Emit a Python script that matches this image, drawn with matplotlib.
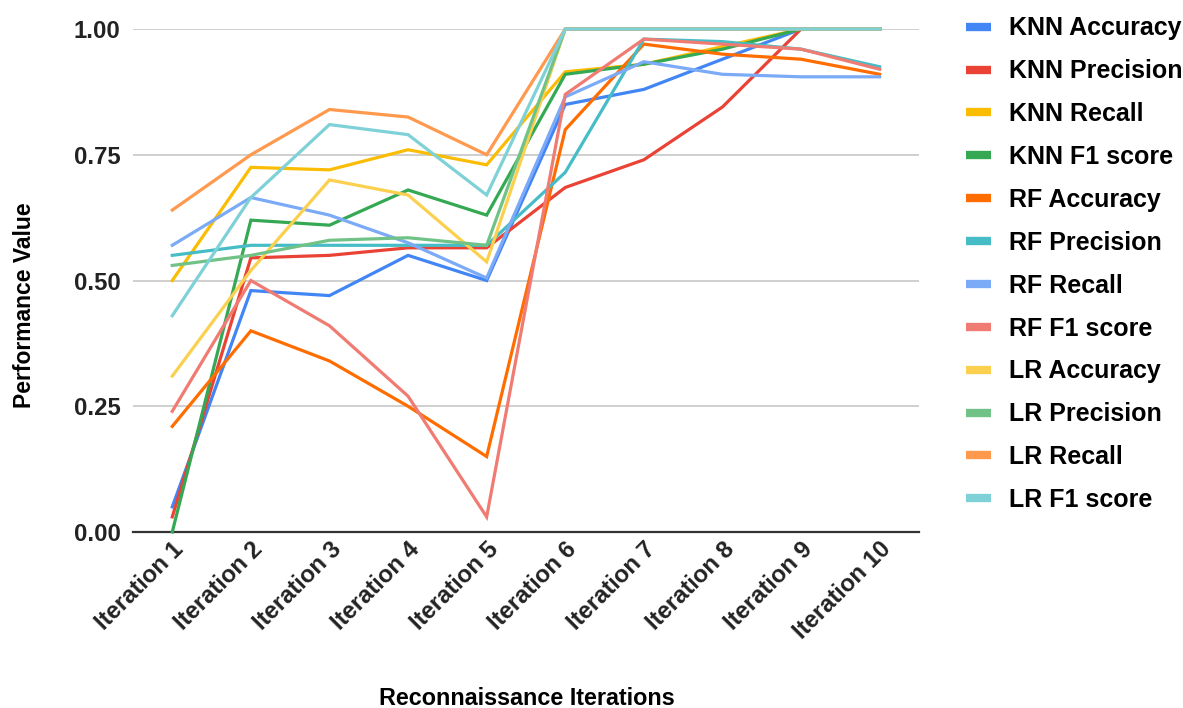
import matplotlib
matplotlib.use("Agg")
import matplotlib.pyplot as plt

plt.rcParams['font.family'] = ['Liberation Sans', 'DejaVu Sans']
plt.rcParams['font.weight'] = 'bold'

iterations = ['Iteration %d' % i for i in range(1, 11)]

knn_accuracy  = [0.05, 0.48, 0.47, 0.55, 0.50, 0.85, 0.88, 0.94, 1.00, 1.00]
knn_precision = [0.03, 0.545, 0.55, 0.565, 0.565, 0.685, 0.74, 0.845, 1.00, 1.00]
knn_recall    = [0.50, 0.725, 0.72, 0.76, 0.73, 0.915, 0.93, 0.965, 1.00, 1.00]
knn_f1        = [0.00, 0.62, 0.61, 0.68, 0.63, 0.91, 0.93, 0.96, 1.00, 1.00]
rf_accuracy   = [0.21, 0.40, 0.34, 0.25, 0.15, 0.80, 0.97, 0.95, 0.94, 0.91]
rf_precision  = [0.55, 0.57, 0.57, 0.57, 0.57, 0.715, 0.98, 0.975, 0.96, 0.925]
rf_recall     = [0.57, 0.665, 0.63, 0.575, 0.505, 0.865, 0.935, 0.91, 0.905, 0.905]
rf_f1         = [0.24, 0.50, 0.41, 0.27, 0.03, 0.87, 0.98, 0.97, 0.96, 0.92]
lr_accuracy   = [0.31, 0.52, 0.70, 0.67, 0.537, 1.00, 1.00, 1.00, 1.00, 1.00]
lr_precision  = [0.53, 0.55, 0.58, 0.585, 0.57, 1.00, 1.00, 1.00, 1.00, 1.00]
lr_recall     = [0.64, 0.75, 0.84, 0.825, 0.75, 1.00, 1.00, 1.00, 1.00, 1.00]
lr_f1         = [0.43, 0.665, 0.81, 0.79, 0.67, 1.00, 1.00, 1.00, 1.00, 1.00]

series = [
    ('KNN Accuracy', knn_accuracy, '#4285F4'),
    ('KNN Precision', knn_precision, '#EA4335'),
    ('KNN Recall', knn_recall, '#FBBC04'),
    ('KNN F1 score', knn_f1, '#34A853'),
    ('RF Accuracy', rf_accuracy, '#FF6D01'),
    ('RF Precision', rf_precision, '#46BDC6'),
    ('RF Recall', rf_recall, '#7BAAF7'),
    ('RF F1 score', rf_f1, '#F07B72'),
    ('LR Accuracy', lr_accuracy, '#FCD04F'),
    ('LR Precision', lr_precision, '#71C287'),
    ('LR Recall', lr_recall, '#FF994D'),
    ('LR F1 score', lr_f1, '#7ED1D7'),
]

fig = plt.figure(figsize=(11.83, 7.08), dpi=100)
ax = fig.add_axes([0.1124, 0.2486, 0.6644, 0.7104])

for label, vals, color in series:
    ax.plot(iterations, vals, color=color, lw=2.3, label=label,
            solid_joinstyle='miter', clip_on=False, zorder=3)

ax.set_xlim(-0.5, 9.5)
ax.set_ylim(0, 1)
ax.set_yticks([0, 0.25, 0.5, 0.75, 1.0])
ax.set_yticklabels(['0.00', '0.25', '0.50', '0.75', '1.00'])
ax.grid(axis='y', color='#cccccc', lw=1.3)
ax.set_axisbelow(True)
for s in ['top', 'right', 'left']:
    ax.spines[s].set_visible(False)
ax.spines['bottom'].set_color('#333333')
ax.spines['bottom'].set_linewidth(1.6)
ax.spines['bottom'].set_zorder(2)
ax.tick_params(axis='both', length=0, labelsize=17.2, colors='#222222')
ax.tick_params(axis='y', pad=9)
ax.tick_params(axis='x', pad=4)
plt.setp(ax.get_xticklabels(), rotation=45, ha='right', rotation_mode='anchor')

ax.set_ylabel('Performance Value', fontsize=16.5, fontweight='bold', va='center')
ax.yaxis.set_label_coords(-0.138, 0.451)
ax.set_xlabel('Reconnaissance Iterations', fontsize=16.8, fontweight='bold', va='center')
ax.xaxis.set_label_coords(0.501, -0.331)

leg = ax.legend(loc='upper left', bbox_to_anchor=(1.047, 1.045), frameon=False,
                fontsize=18, handlelength=1.0, handletextpad=0.72,
                labelspacing=0.755, borderaxespad=0)
for line in leg.get_lines():
    line.set_linewidth(6)
    line.set_solid_capstyle('butt')

fig.savefig('out.png', dpi=100)
